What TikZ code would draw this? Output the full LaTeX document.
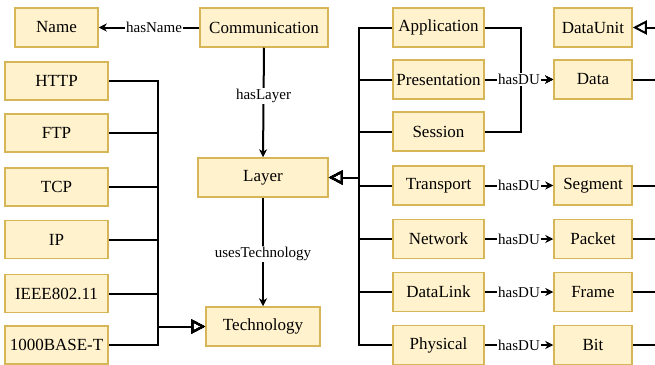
\documentclass[tikz,border=0pt]{standalone}
\usepackage{fontspec}
\setmainfont{Liberation Serif}
\usetikzlibrary{arrows.meta}
\definecolor{boxfill}{HTML}{FFF2CC}
\definecolor{boxdraw}{HTML}{D6B656}
\begin{document}
\begin{tikzpicture}[x=1pt,y=-1pt,
 box/.style={draw=boxdraw,fill=boxfill,line width=1.5pt,minimum height=39pt,inner sep=0pt,font=\fontsize{17}{20}\selectfont},
 conn/.style={line width=2pt},
 rel/.style={conn,-{Stealth[length=8pt,width=8pt,inset=2.5pt]}},
 inh/.style={conn,-{Triangle[open,length=14pt,width=14pt]}},
 lbl/.style={fill=white,inner sep=1pt,font=\fontsize{15}{18}\selectfont}]
\useasboundingbox (0,0) rectangle (655,364);
% left column
\node[box,minimum width=83pt] (name) at (56.5,27.5) {Name};
\node[box,minimum width=128pt] (comm) at (264,27.5) {Communication};
\node[box,minimum width=103pt,minimum height=38pt] (http) at (56.5,81) {HTTP};
\node[box,minimum width=103pt,minimum height=38pt] (ftp) at (56.5,133) {FTP};
\node[box,minimum width=103pt,minimum height=38pt] (tcp) at (56.5,187) {TCP};
\node[box,minimum width=103pt,minimum height=38pt] (ip) at (56.5,239.5) {IP};
\node[box,minimum width=103pt,minimum height=38pt] (ieee) at (56.5,293.5) {IEEE802.11};
\node[box,minimum width=103pt,minimum height=38pt] (base) at (56.5,345) {1000BASE-T};
\node[box,minimum width=130pt] (layer) at (263,177.5) {Layer};
\node[box,minimum width=114pt] (tech) at (263,326.5) {Technology};
% layers
\node[box,minimum width=91pt] (app) at (438.5,27.5) {Application};
\node[box,minimum width=91pt] (pres) at (438.5,79.5) {Presentation};
\node[box,minimum width=91pt] (ses) at (438.5,131.5) {Session};
\node[box,minimum width=91pt] (tr) at (438.5,185.5) {Transport};
\node[box,minimum width=91pt] (nw) at (438.5,239) {Network};
\node[box,minimum width=91pt] (dl) at (438.5,292) {DataLink};
\node[box,minimum width=91pt] (ph) at (438.5,345) {Physical};
% data units
\node[box,minimum width=78pt] (du) at (593,27.5) {DataUnit};
\node[box,minimum width=78pt] (data) at (593,79.5) {Data};
\node[box,minimum width=78pt] (seg) at (593,185.5) {Segment};
\node[box,minimum width=78pt] (pkt) at (593,239) {Packet};
\node[box,minimum width=78pt] (frm) at (593,292) {Frame};
\node[box,minimum width=78pt] (bit) at (593,345) {Bit};
% coordinates for free ends
\coordinate (duin) at (662,27.5);
\coordinate (dataout) at (662,79.5);
\coordinate (segout) at (662,185.5);
\coordinate (pktout) at (662,239);
\coordinate (frmout) at (662,292);
\coordinate (bitout) at (662,345);
% relations
\draw[rel] (comm.west) -- node[lbl,pos=0.45] {hasName} (name.east);
\draw[rel] (comm.south) -- node[lbl,pos=0.44] {hasLayer} (layer.north);
\draw[rel] (layer.south) -- node[lbl,pos=0.52] {usesTechnology} (tech.north);
% technology inheritance
\foreach \n in {http,ftp,tcp,ip,ieee,base}
  \draw[inh] (\n.east) -- ++(49,0) |- (tech.west);
% layer inheritance
\foreach \n in {app,pres,ses,tr,nw,dl,ph}
  \draw[inh] (\n.west) -- ++(-33,0) |- (layer.east);
% hasDU
\draw[rel] (app.east) -- ++(36,0) |- (data.west);
\draw[rel] (ses.east) -- ++(36,0) |- (data.west);
\draw[rel] (pres.east) -- node[lbl] {hasDU} (data.west);
\draw[rel] (tr.east) -- node[lbl] {hasDU} (seg.west);
\draw[rel] (nw.east) -- node[lbl] {hasDU} (pkt.west);
\draw[rel] (dl.east) -- node[lbl] {hasDU} (frm.west);
\draw[rel] (ph.east) -- node[lbl] {hasDU} (bit.west);
% data unit inheritance (off to the right)
\draw[inh] (duin) -- (du.east);
\foreach \n in {data,seg,pkt,frm,bit}
  \draw[conn] (\n.east) -- (\n out);
\end{tikzpicture}
\end{document}
